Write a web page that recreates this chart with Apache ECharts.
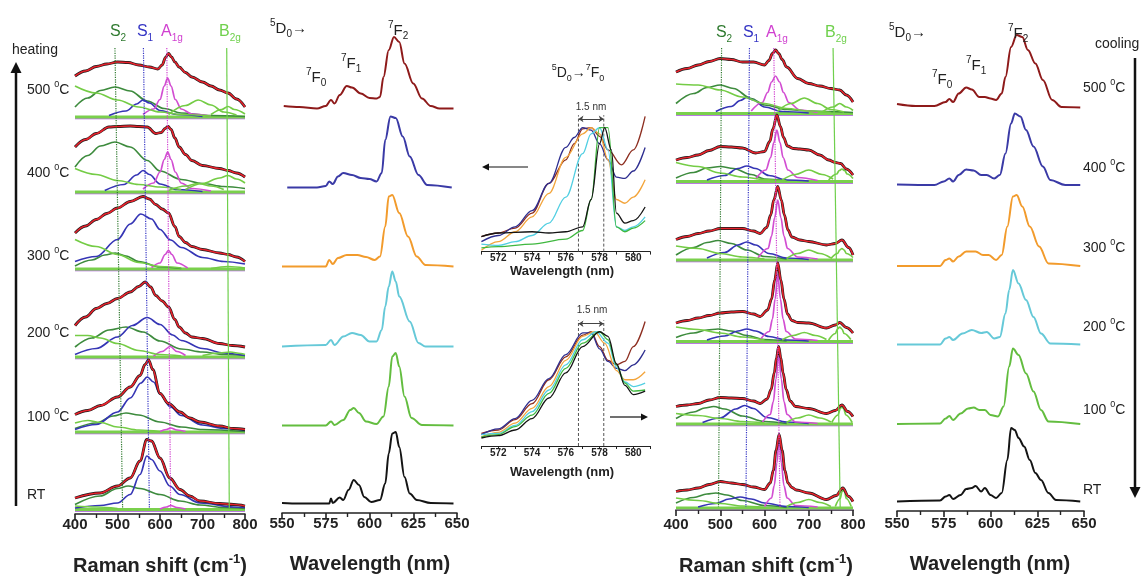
<!DOCTYPE html>
<html>
<head>
<meta charset="utf-8">
<script src="https://cdn.jsdelivr.net/npm/echarts@6/dist/echarts.min.js"></script>
<style>
html, body { margin: 0; padding: 0; background: #fff; }
#main { width: 1141px; height: 578px; }
</style>
</head>
<body>
<div id="main"></div>
<script>
// Raman spectra, heating (heights above each stack baseline)
var h500fit = [[400,8.2],[425,9.2],[450,10.1],[475,10.6],[500,11],[525,10.9],[550,10.4],[575,10],[595,9.6],[605,10.4],[613,11.9],[620,12.7],[627,12],[635,11],[645,10],[660,8.9],[675,8],[700,7],[720,6.2],[740,5.4],[760,4.8],[780,3.6],[800,2]];
var h500s2 = [[400,2],[430,3.8],[460,5.3],[494,6],[530,5.2],[570,3.2],[610,1.7],[650,0.8],[720,0.3],[800,0.1]];
var h500s1 = [[480,0.3],[520,1.2],[545,2.6],[560,3.4],[575,2.8],[600,1.3],[640,0.5],[700,0.1]];
var h500a = [[560,0.5],[585,1.6],[600,3.5],[610,6.2],[618,7.8],[626,6.2],[636,3.5],[650,1.6],[675,0.6],[720,0.2]];
var h500g1 = [[400,6.2],[450,4.8],[500,3.4],[550,2],[600,1],[650,0.5],[720,0.2]];
var h500g2 = [[620,0.5],[660,2.3],[690,3.4],[720,2.4],[750,1],[780,0.4]];
var h500b = [[720,0.5],[745,1.5],[760,2.1],[775,1.5],[800,0.6]];

var h400fit = [[400,9],[425,10.5],[450,11.7],[480,13],[500,13.1],[530,13.2],[550,13.1],[570,13],[590,11.7],[603,11.9],[612,12.7],[619,13.1],[626,12.5],[635,10.8],[645,9],[660,7.5],[675,6.3],[700,5.3],[740,4.7],[760,4.3],[780,3.8],[800,3]];
var h400s2 = [[400,5],[430,7.3],[460,9.2],[494,10],[530,9],[570,6.3],[600,4.2],[650,2.5],[700,1.7],[750,1.1],[800,0.7]];
var h400s1 = [[470,0.3],[515,1.5],[545,3.4],[560,4.3],[575,3.5],[600,1.6],[640,0.5],[700,0.1]];
var h400a = [[560,0.6],[585,1.8],[600,4],[610,6.5],[618,8],[626,6.5],[636,4],[650,1.8],[675,0.7],[720,0.2]];
var h400g1 = [[400,4.7],[450,3.5],[500,2.3],[550,1.5],[600,1],[650,0.5]];
var h400g2 = [[620,0.3],[660,1.2],[690,1.7],[720,1.2],[750,0.5]];
var h400b = [[660,0.5],[700,1.7],[740,2.8],[760,3.3],[780,2.6],[800,1.8]];

var h300fit = [[400,7.2],[425,8.6],[450,9.9],[475,11.1],[500,12.2],[530,13.5],[560,14.5],[575,14],[590,12.9],[605,12],[620,11.2],[635,8.5],[645,6.5],[660,5.3],[675,4.5],[700,3.9],[740,3.2],[760,2.9],[780,2.4],[800,1.5]];
var h300s2 = [[400,0.6],[440,1.8],[470,2.8],[495,3.2],[520,2.6],[550,1.5],[600,0.4],[650,0.1]];
var h300s1 = [[400,1.5],[450,2.5],[500,5.9],[530,9],[555,11],[580,10],[600,7.9],[625,5.8],[650,4.3],[700,2.3],[750,1.5],[800,1]];
var h300a = [[580,0.3],[600,1.2],[612,2.9],[620,3.7],[628,2.9],[640,1.2],[665,0.2]];
var h300g1 = [[400,5.9],[450,4.5],[500,2.9],[550,1.3],[600,0.5],[650,0.2]];
var h300g2 = [];
var h300b = [[720,0.1],[760,0.5],[800,0.2]];

var h200fit = [[400,6.3],[425,8],[450,9.7],[475,10.7],[500,11.7],[530,13],[550,14.1],[565,15],[578,14],[590,12.3],[605,11.2],[620,10],[635,7.5],[645,6],[660,4.8],[675,4],[700,3.7],[740,2.7],[770,2.3],[800,2]];
var h200s2 = [[400,2],[440,3.8],[480,5.4],[520,6],[560,5],[600,3.2],[650,1.6],[700,1],[750,0.5],[800,0.3]];
var h200s1 = [[400,0.5],[450,1.7],[500,4],[535,6.3],[570,7.9],[600,6.5],[630,4.4],[650,3.3],[700,1.7],[750,0.8],[800,0.3]];
var h200a = [[585,0.2],[605,1.1],[624,2.1],[640,1.1],[660,0.3]];
var h200g1 = [[400,4.3],[430,4.3],[460,3.8],[500,2.7],[550,1.3],[600,0.5],[650,0.2]];
var h200g2 = [];
var h200b = [[700,0.3],[740,0.8],[765,1],[790,0.7],[800,0.5]];

var h100fit = [[400,3.5],[430,4.3],[460,5.3],[500,7],[530,9],[553,11.3],[565,13.5],[573,14.4],[583,12.5],[600,7.7],[620,5.7],[647,4],[670,2.8],[694,2],[740,1.2],[773,0.7],[800,0.5]];
var h100s2 = [[400,0.7],[450,1.8],[490,3.2],[520,3.8],[550,3.4],[600,2],[650,1],[700,0.5],[800,0.1]];
var h100s1 = [[400,0.5],[450,1.5],[500,4],[530,6.8],[555,9.8],[570,11],[585,10],[600,7.6],[625,5],[650,3.3],[700,1.4],[750,0.7],[800,0.3]];
var h100a = [[600,0.1],[615,0.5],[625,0.8],[640,0.4],[660,0.1]];
var h100g1 = [[400,1.8],[430,2.3],[460,1.9],[500,1],[550,0.4],[600,0.1]];
var h100g2 = [];
var h100b = [];

var hRTfit = [[400,2.3],[459,3.3],[500,4.7],[530,6.3],[553,9.7],[569,14],[580,13.7],[600,10.3],[623,6.3],[647,4],[670,2.7],[694,1.7],[740,1.2],[773,1],[800,0.7]];
var hRTs2 = [[400,1],[459,2.7],[500,4.2],[525,4.7],[553,4.2],[600,3],[647,1.7],[694,0.9],[750,0.4],[800,0.2]];
var hRTs1 = [[400,0.3],[459,0.8],[500,1.3],[530,3],[553,7],[569,10.7],[580,10],[600,7.7],[623,4.7],[647,3],[694,1.3],[773,0.5],[800,0.4]];
var hRTa = [[600,0.1],[615,0.5],[625,0.8],[640,0.4],[660,0.1]];
var hRTg1 = [[400,0.7],[450,0.5],[500,0.2]];
var hRTg2 = [];
var hRTb = [];

// Raman spectra, cooling
var c500fit = [[400,8.3],[425,9],[450,9.7],[475,10.4],[500,11],[525,10.8],[550,10.3],[575,10.3],[600,9.7],[610,10.6],[618,12],[625,12.7],[632,12],[640,10.8],[650,9.3],[675,7],[700,6],[725,5.5],[750,5],[770,4.7],[785,3.7],[800,2.3]];
var c500s2 = [[400,2],[440,4],[470,5.2],[500,5.7],[530,5],[570,3],[600,1.7],[650,0.8],[700,0.5],[800,0.2]];
var c500s1 = [[490,0.4],[525,1.4],[545,2.6],[560,3.2],[575,2.7],[600,1.3],[640,0.4],[700,0.1]];
var c500a = [[570,0.5],[595,2.2],[607,4.2],[616,6.3],[625,7.5],[634,6.3],[643,4.2],[655,2.2],[680,0.7],[720,0.2]];
var c500g1 = [[400,5.9],[450,5.7],[500,4.7],[550,3.3],[600,2],[650,1],[700,0.5],[750,0.2]];
var c500g2 = [[630,0.5],[660,2],[690,3.1],[720,2],[750,0.8],[780,0.3]];
var c500b = [[730,0.3],[755,1.3],[770,2],[785,1.3],[800,0.6]];

var c400fit = [[400,4.3],[425,4.8],[450,5.3],[475,6.2],[500,7],[525,6.9],[550,6.7],[580,5.7],[600,6],[612,8],[619,10.5],[628,13.3],[636,11],[643,8.8],[652,7.1],[665,6.6],[680,6.5],[700,6.3],[725,5.3],[745,4.3],[760,3.8],[772,3.6],[785,2.5],[800,1.3]];
var c400s2 = [[400,0.7],[440,1.8],[470,2.7],[500,3],[530,2.6],[570,1.4],[600,0.5],[650,0.2]];
var c400s1 = [[470,0.3],[510,1.2],[540,2.6],[560,3.1],[580,2.6],[610,1.2],[650,0.3],[700,0.1]];
var c400a = [[580,0.5],[603,2.3],[614,4.8],[621,7.8],[628,10.3],[635,7.8],[642,4.8],[653,2.3],[675,0.8],[720,0.2]];
var c400g1 = [[400,3.8],[450,3],[500,1.7],[550,0.9],[600,0.4],[650,0.1]];
var c400g2 = [[640,0.3],[670,1.4],[700,2.3],[730,1.4],[755,0.5]];
var c400b = [[745,0.3],[763,1.5],[769,2.2],[775,2.5],[781,2.2],[787,1.5],[800,0.6]];

var c300fit = [[400,4.1],[425,4.7],[450,5.3],[475,5.8],[500,6.3],[525,6.3],[550,6.3],[575,5.8],[590,5.3],[605,6.5],[614,9],[621,12],[630,14.7],[638,12],[645,9],[653,6],[662,4.6],[680,4],[700,3.7],[740,3],[760,3.3],[775,4],[790,2.5],[800,1]];
var c300s2 = [[400,1],[440,2.5],[470,3.5],[495,3.9],[525,3.3],[560,2],[600,0.7],[650,0.2]];
var c300s1 = [[470,0.4],[510,1.5],[540,3],[560,3.6],[580,3],[610,1.3],[650,0.4],[700,0.1]];
var c300a = [[585,0.4],[608,2.3],[616,4.8],[623,8.5],[630,12],[637,8.5],[644,4.8],[652,2.3],[675,0.6],[720,0.2]];
var c300g1 = [[400,2.8],[450,2.3],[500,1.3],[550,0.6],[600,0.2]];
var c300g2 = [[650,0.3],[675,1.3],[700,2],[725,1.3],[750,0.4]];
var c300b = [[750,0.3],[765,1.3],[770,2],[775,2.3],[780,2],[785,1.3],[800,0.5]];

var c200fit = [[400,3.7],[425,4.2],[450,4.7],[475,5.2],[500,5.7],[525,5.9],[550,6],[575,5.5],[590,5],[607,6.3],[616,8.5],[623,12.3],[630,15.7],[637,12.3],[644,8.5],[652,5.5],[662,4.2],[675,3.8],[700,3.7],[740,2.7],[760,3.3],[770,3.8],[785,2.8],[800,1.7]];
var c200s2 = [[400,0.8],[440,1.7],[470,2.3],[495,2.5],[525,2.1],[560,1.2],[600,0.4],[650,0.1]];
var c200s1 = [[470,0.3],[510,1.1],[540,2.1],[560,2.5],[580,2.1],[610,1],[650,0.3],[700,0.1]];
var c200a = [[590,0.3],[611,2],[618,4.5],[624,8.5],[630,13.5],[636,8.5],[642,4.5],[649,2],[670,0.5],[720,0.2]];
var c200g1 = [[400,2.9],[450,2.4],[500,1.7],[550,0.9],[600,0.3]];
var c200g2 = [[640,0.3],[665,1.2],[690,1.8],[715,1.2],[740,0.4]];
var c200b = [[745,0.3],[760,1.6],[765,2.5],[770,2.9],[775,2.5],[780,1.6],[795,0.4]];

var c100fit = [[400,3.5],[425,3.8],[450,4.1],[475,4.8],[500,5.3],[525,5.2],[550,5.1],[575,4.6],[590,4.1],[606,5],[615,6.9],[622,10.2],[627,13.2],[632,15.5],[637,13.2],[642,10.2],[649,6.9],[658,4.6],[670,3.5],[700,3.1],[740,2.1],[760,2.7],[775,3.8],[788,2.5],[800,1.5]];
var c100s2 = [[400,1.1],[440,2.4],[465,3.2],[485,3.5],[510,3],[550,1.6],[600,0.5],[650,0.1]];
var c100s1 = [[460,0.3],[500,1.2],[535,3],[555,3.7],[575,3.1],[605,1.3],[650,0.4],[700,0.1]];
var c100a = [[595,0.3],[613,1.9],[620,4.5],[626,9],[632,14],[638,9],[644,4.5],[651,1.9],[670,0.4],[720,0.1]];
var c100g1 = [[400,2.1],[450,1.7],[500,1.1],[550,0.5],[600,0.2]];
var c100g2 = [[650,0.3],[675,1.2],[700,1.8],[725,1.2],[750,0.4]];
var c100b = [[752,0.3],[766,1.8],[771,3],[775,3.5],[779,3],[784,1.8],[798,0.3]];

var cRTfit = [[400,3.3],[425,3.6],[450,4],[475,4.7],[500,5.3],[525,5],[550,4.7],[575,4.2],[600,3.7],[613,5],[620,7.5],[626,11.5],[633,14.7],[640,11.5],[646,7.5],[653,5],[662,4.1],[672,3.6],[700,3],[740,1.7],[762,2.5],[777,4],[790,2.3],[800,1.3]];
var cRTs2 = [[400,1],[440,2.1],[470,2.8],[490,3],[515,2.6],[550,1.5],[600,0.5],[650,0.1]];
var cRTs1 = [[450,0.2],[490,0.9],[520,1.8],[545,2.2],[570,1.8],[600,1],[650,0.3],[700,0.1]];
var cRTa = [[600,0.3],[616,2],[622,4.5],[628,9],[633,14],[638,9],[644,4.5],[651,2],[670,0.5],[720,0.2]];
var cRTg1 = [[400,2],[450,1.5],[500,0.9],[550,0.4],[600,0.1]];
var cRTg2 = [[650,0.3],[675,1.1],[700,1.7],[725,1.1],[750,0.3]];
var cRTb = [[760,0.3],[771,1.9],[775,3.2],[778,3.8],[781,3.2],[785,1.9],[796,0.3]];

// stack baselines (panel units, 500 C at top down to RT)
var heatOffsets = [79.4, 64.4, 49, 31.4, 16.4, 0.9];
var coolOffsets = [79.3, 65.7, 50, 33.7, 17.2, 0.4];
var plHeatOffsets = [80.9, 65.1, 49.3, 33.3, 17.5, 1.9];
var plCoolOffsets = [80.7, 65.2, 49, 33.3, 17.4, 1.9];
var temps = ['500', '400', '300', '200', '100', 'RT'];

// dotted mode guides: x at top and at bottom of the panel
var modeNames = ['S2', 'S1', 'A1g', 'B2g'];
var heatGuideTop = [494, 561, 616, 757];
var heatGuideBottom = [512, 575, 625, 763];
var coolGuideTop = [503, 566, 621, 755];
var coolGuideBottom = [496, 558, 635, 771];

// photoluminescence, heating
var hp500 = [[551,0.5],[560,0.3],[570,0],[575,0.5],[578,1.7],[580,1],[583,2.7],[587,4.5],[590,4.2],[595,3],[600,2.1],[604,2],[606,2.3],[608,6.3],[611,11.7],[614,14.3],[617,13.3],[620,9],[625,5],[630,2],[635,0.5],[640,0],[648,0]];
var hp400 = [[553,0],[570,0],[575,0.3],[577,1.2],[579,0.7],[582,2.2],[585,2.9],[590,2.5],[595,1.9],[600,1.7],[604,1.2],[607,2.9],[609,9.5],[612,14.2],[615,13.9],[619,10.2],[623,6.2],[628,2.5],[633,0.5],[647,0]];
var hp300 = [[550,0],[575,0],[577,1.3],[579,0.5],[582,1.7],[587,2.3],[593,2.3],[598,1.9],[603,1.3],[606,2],[609,8],[611,14],[613,14.3],[617,10.7],[622,6],[627,2],[632,0.3],[648,0]];
var hp200 = [[550,0],[575,0.3],[578,1.3],[580,0.3],[585,2],[590,2.7],[595,2.3],[600,1],[604,1],[607,3.3],[609,8],[611,12],[613,15],[615,13],[617,10],[623,5],[628,0.7],[632,0],[648,0]];
var hp100 = [[550,0],[575,0],[578,0.8],[580,0.1],[585,1.1],[589,3.1],[591,3.5],[594,2.5],[598,0.8],[604,0.3],[608,1.8],[611,7.8],[613,13.8],[615,14.5],[617,11.8],[620,5.8],[624,1.5],[630,0.1],[648,0]];
var hpRT = [[550,0.1],[560,0],[577,0],[578,1],[579,0.1],[583,1.2],[585,0.7],[588,2.7],[591,4.7],[594,3.7],[597,1.3],[601,0.3],[606,0.7],[609,4],[611,10],[613,14],[615,14.3],[617,11.3],[620,5.3],[623,2],[627,0.7],[635,0.1],[648,0]];

// photoluminescence, cooling
var cp500 = [[550,0.7],[560,0.3],[570,0.3],[576,1.1],[578,1.7],[580,1.1],[583,2.8],[587,4],[590,3.6],[594,2.1],[597,2.1],[600,1.8],[603,1.5],[606,2.8],[608,6.1],[611,12.1],[614,14.5],[617,14.1],[620,11.5],[624,8.8],[628,5.5],[633,1.5],[638,0.1],[648,0]];
var cp400 = [[550,0.1],[570,0],[575,0.7],[578,1.3],[580,0.7],[583,2],[587,3.1],[591,2.9],[595,2],[598,2],[602,1.3],[605,2],[608,6.3],[611,12.3],[613,14.3],[616,13.7],[619,11],[623,7.7],[628,3.7],[632,1],[640,0],[648,0]];
var cp300 = [[550,0],[573,0],[576,1.2],[578,1.5],[580,0.9],[583,1.9],[587,2.9],[592,2.9],[596,2.2],[599,2.2],[603,1.2],[606,2.2],[609,7.9],[612,13.9],[614,14.2],[617,11.9],[621,7.9],[626,3.9],[631,0.5],[648,0]];
var cp200 = [[550,0],[573,0],[576,1.2],[578,1.5],[580,0.9],[585,2.2],[590,2.9],[595,2.3],[598,2.5],[602,1.2],[605,1.5],[608,6.2],[610,10.9],[612,14.9],[615,12.2],[619,8.9],[623,5.5],[627,2.2],[632,0.2],[648,0]];
var cp100 = [[550,0],[573,0.1],[576,1.1],[578,1.6],[580,0.8],[584,2.1],[588,3.1],[591,3.3],[594,2.8],[597,2.8],[600,1.8],[604,1.5],[607,3.5],[610,11.5],[612,15.1],[615,13.8],[619,10.1],[623,6.5],[627,2.8],[631,0.5],[648,0]];
var cpRT = [[550,0],[573,0.2],[576,1],[578,1.3],[580,0.5],[584,1.3],[587,2.5],[590,2.7],[592,3.1],[595,2],[597,2.7],[600,1.3],[603,0.7],[606,1.7],[609,8.3],[611,14.7],[613,14.3],[615,12.7],[618,11],[621,8.3],[624,5.7],[627,4.3],[631,1.7],[635,0.3],[648,0]];

// 5D0-7F0 insets (normalised)
var ih500 = [[571,0.12],[572,0.15],[573,0.19],[574,0.31],[575,0.55],[576,0.74],[576.5,0.87],[577,0.99],[577.5,1.0],[578,0.93],[578.5,0.82],[579.3,0.7],[580,0.82],[580.7,1.09]];
var ih400 = [[571,0.08],[572,0.13],[573,0.2],[574,0.33],[575,0.55],[576,0.84],[576.5,0.92],[577,1.0],[577.5,0.98],[578,0.87],[578.5,0.74],[579,0.6],[579.5,0.59],[580,0.65],[580.7,0.84]];
var ih300 = [[571,0.01],[572,0.08],[573,0.16],[574,0.28],[575,0.47],[576,0.76],[577,0.95],[577.5,1.0],[578,0.95],[578.5,0.74],[579,0.42],[579.5,0.39],[580,0.44],[580.7,0.58]];
var ih200 = [[571,0.06],[572,0.05],[573,0.08],[574,0.13],[575,0.23],[576,0.44],[577,0.79],[577.5,0.95],[578,1.0],[578.5,0.82],[579,0.2],[579.5,0.17],[580,0.2],[580.7,0.28]];
var ih100 = [[571,0.03],[572,0.04],[574,0.06],[576,0.1],[577,0.17],[577.5,0.42],[578,1.0],[578.5,1.0],[579,0.2],[579.5,0.16],[580,0.19],[580.7,0.25]];
var ihRT = [[571,0.12],[572,0.15],[574,0.16],[575,0.15],[576,0.16],[577,0.2],[577.5,0.42],[578,0.87],[578.3,1.0],[578.7,0.82],[579,0.31],[579.5,0.23],[580,0.25],[580.7,0.36]];

var ic500 = [[571,0.11],[572,0.14],[573,0.23],[574,0.37],[575,0.58],[576,0.78],[577,0.97],[577.5,1.0],[578,0.87],[578.5,0.75],[579,0.71],[579.5,0.74],[580,0.87],[580.7,1.09]];
var ic400 = [[571,0.1],[572,0.15],[573,0.24],[574,0.4],[575,0.59],[576,0.8],[577,0.99],[577.5,0.99],[578,0.85],[578.5,0.74],[579,0.68],[579.5,0.66],[580,0.71],[580.7,0.84]];
var ic300 = [[571,0.08],[572,0.12],[573,0.2],[574,0.33],[575,0.52],[576,0.75],[577,0.96],[577.7,1.0],[578.3,0.9],[579,0.66],[579.5,0.58],[580,0.58],[580.7,0.65]];
var ic200 = [[571,0.1],[572,0.11],[573,0.18],[574,0.3],[575,0.49],[576,0.71],[577,0.93],[577.8,1.0],[578.5,0.9],[579,0.69],[579.5,0.56],[580,0.52],[580.7,0.55]];
var ic100 = [[571,0.08],[572,0.1],[573,0.17],[574,0.27],[575,0.46],[576,0.68],[577,0.9],[578,1.0],[578.5,0.93],[579,0.71],[579.5,0.55],[580,0.48],[580.7,0.49]];
var icRT = [[571,0.07],[572,0.09],[573,0.14],[574,0.24],[575,0.42],[576,0.64],[577,0.87],[578,1.0],[578.5,0.96],[579,0.72],[579.5,0.53],[580,0.45],[580.7,0.48]];

var shiftMarks = [576.75, 578.25];   // the 1.5 nm shift

var heatStacks = [
    [h500fit, h500s2, h500s1, h500a, h500g1, h500g2, h500b],
    [h400fit, h400s2, h400s1, h400a, h400g1, h400g2, h400b],
    [h300fit, h300s2, h300s1, h300a, h300g1, h300g2, h300b],
    [h200fit, h200s2, h200s1, h200a, h200g1, h200g2, h200b],
    [h100fit, h100s2, h100s1, h100a, h100g1, h100g2, h100b],
    [hRTfit, hRTs2, hRTs1, hRTa, hRTg1, hRTg2, hRTb]
];
var coolStacks = [
    [c500fit, c500s2, c500s1, c500a, c500g1, c500g2, c500b],
    [c400fit, c400s2, c400s1, c400a, c400g1, c400g2, c400b],
    [c300fit, c300s2, c300s1, c300a, c300g1, c300g2, c300b],
    [c200fit, c200s2, c200s1, c200a, c200g1, c200g2, c200b],
    [c100fit, c100s2, c100s1, c100a, c100g1, c100g2, c100b],
    [cRTfit, cRTs2, cRTs1, cRTa, cRTg1, cRTg2, cRTb]
];
var plHeat = [hp500, hp400, hp300, hp200, hp100, hpRT];
var plCool = [cp500, cp400, cp300, cp200, cp100, cpRT];
var insetHeat = [ih500, ih400, ih300, ih200, ih100, ihRT];
var insetCool = [ic500, ic400, ic300, ic200, ic100, icRT];

//////////////////////////////////////////////////////////////

var FF = '"Liberation Sans", Arial, sans-serif';
var plColors = ['#8e1a1a', '#3a3aa6', '#f29b2c', '#66c9d8', '#63bd3f', '#141414'];
var insetColors = ['#8d2e20', '#2e2e90', '#f3a53c', '#52cfe2', '#3fb83f', '#141414'];
var compColors = ['#3d8b3d', '#3535b5', '#d24ed2', '#74cc45', '#74cc45', '#74cc45'];
var guideColors = ['#2f7a2f', '#3434c4', '#d040d0', '#6fd04c'];

var chart = echarts.init(document.getElementById('main'));

function shift(pts, off) {
    return pts.map(function (p) { return [p[0], p[1] + off]; });
}

function curve(grid, pts, off, color, width, type, smooth) {
    return {
        type: 'line', xAxisIndex: grid, yAxisIndex: grid,
        data: shift(pts, off), symbol: 'none', silent: true,
        smooth: smooth === undefined ? 0.35 : smooth, smoothMonotone: 'x',
        lineStyle: {color: color, width: width, type: type || 'solid'},
        animation: false
    };
}

var series = [];

function ramanPanel(grid, stacks, offsets, top, bottom, guideY) {
    stacks.forEach(function (st, i) {
        var off = offsets[i];
        series.push(curve(grid, [[400, 0], [800, 0]], off - 0.35, '#a24fd6', 1.2));
        series.push(curve(grid, [[400, 0], [800, 0]], off, '#7ad04c', 3));
        for (var k = 1; k < st.length; k++) {
            if (st[k].length) series.push(curve(grid, st[k], off, compColors[k - 1], 1.7));
        }
        series.push(curve(grid, st[0], off, '#1a1a1a', 2.8));
        series.push(curve(grid, st[0], off, '#e8222c', 1.7));
    });
    top.forEach(function (x, k) {
        series.push(curve(grid, [[x, guideY[0]], [bottom[k], guideY[1]]], 0, guideColors[k], 1.2,
            k === 3 ? 'solid' : 'dotted', false));
    });
}

ramanPanel(0, heatStacks, heatOffsets, heatGuideTop, heatGuideBottom, [93.2, 1.2]);
ramanPanel(4, coolStacks, coolOffsets, coolGuideTop, coolGuideBottom, [92.4, 0.6]);

plHeat.forEach(function (d, i) { series.push(curve(1, d, plHeatOffsets[i], plColors[i], 2)); });
plCool.forEach(function (d, i) { series.push(curve(5, d, plCoolOffsets[i], plColors[i], 2)); });

[2, 3].forEach(function (g) {
    shiftMarks.forEach(function (x) {
        series.push(curve(g, [[x, 0], [x, 1.1]], 0, '#555', 1, [3, 2], false));
    });
    series.push({
        type: 'lines', coordinateSystem: 'cartesian2d', xAxisIndex: g, yAxisIndex: g,
        symbol: ['arrow', 'arrow'], symbolSize: 5, silent: true, animation: false,
        lineStyle: {color: '#444', width: 1, opacity: 1},
        data: [{coords: [[shiftMarks[0], 1.07], [shiftMarks[1], 1.07]]}]
    });
});
insetHeat.forEach(function (d, i) { series.push(curve(2, d, 0, insetColors[i], 1.3)); });
insetCool.forEach(function (d, i) { series.push(curve(3, d, 0, insetColors[i], 1.3)); });

// axes
function xAx(grid, min, max, interval, minor, size, margin) {
    return {
        gridIndex: grid, type: 'value', min: min, max: max, interval: interval,
        axisLine: {lineStyle: {color: '#222', width: size > 12 ? 1.6 : 1}},
        axisTick: {length: size > 12 ? 6 : 3, lineStyle: {color: '#222', width: size > 12 ? 1.6 : 1}},
        minorTick: {show: minor > 0, splitNumber: minor || 2, length: 4, lineStyle: {color: '#222', width: 1.4}},
        splitLine: {show: false},
        axisLabel: {
            fontFamily: FF, fontWeight: 'bold', fontSize: size, color: '#222', margin: margin,
            formatter: function (v) { return (interval === 1 && v % 2) ? '' : String(v); }
        }
    };
}
function yAx(grid, max) {
    return {gridIndex: grid, type: 'value', min: 0, max: max, show: false};
}

var grids = [
    {left: 75, top: 34, width: 170, height: 480},
    {left: 282, top: 33, width: 175, height: 480},
    {left: 481.4, top: 109, width: 168.8, height: 142.6},
    {left: 481.4, top: 314.6, width: 168.8, height: 131.4},
    {left: 676, top: 30, width: 177, height: 480},
    {left: 897, top: 31, width: 187, height: 480}
];

// texts
function txt(x, y, text, size, color, bold, align) {
    var w = bold ? 'bold' : 'normal';
    var small = Math.round(size * 0.64);
    return {
        type: 'text', x: x, y: y, z: 100, silent: true,
        style: {
            text: text, align: align || 'left', verticalAlign: 'middle',
            fill: color, font: w + ' ' + size + 'px ' + FF,
            rich: {
                n: {fontSize: size, fontFamily: FF, fontWeight: w, fill: color, lineHeight: size + 6},
                sup: {fontSize: small, fontFamily: FF, fontWeight: w, fill: color, lineHeight: small, verticalAlign: 'top'},
                sub: {fontSize: small, fontFamily: FF, fontWeight: w, fill: color, lineHeight: small, verticalAlign: 'bottom'}
            }
        }
    };
}
function modeLabel(name) {
    return '{n|' + name.charAt(0) + '}{sub|' + name.slice(1) + '}';
}
function tempLabel(t) {
    return t === 'RT' ? '{n|RT}' : '{n|' + t + ' }{sup|0}{n|C}';
}

var graphic = [];
var heatLabelX = [118, 145, 172, 230];
var coolLabelX = [724, 751, 777, 836];
modeNames.forEach(function (m, k) {
    graphic.push(txt(heatLabelX[k], 32, modeLabel(m), 16, guideColors[k], false, 'center'));
    graphic.push(txt(coolLabelX[k], 33, modeLabel(m), 16, guideColors[k], false, 'center'));
});
var heatTempY = [90, 173, 256, 333, 417, 495];
var coolTempY = [88, 168, 248, 327, 410, 490];
temps.forEach(function (t, i) {
    graphic.push(txt(27, heatTempY[i], tempLabel(t), 14, '#222'));
    graphic.push(txt(1083, coolTempY[i], tempLabel(t), 14, '#222'));
});
graphic.push(txt(12, 50, '{n|heating}', 14, '#222'));
graphic.push(txt(1095, 44, '{n|cooling}', 14, '#222'));

// PL transition labels
graphic.push(txt(270, 29, '{sup|5}{n|D}{sub|0}{n|→}', 15, '#222'));
graphic.push(txt(306, 78, '{sup|7}{n|F}{sub|0}', 15, '#222'));
graphic.push(txt(341, 64, '{sup|7}{n|F}{sub|1}', 15, '#222'));
graphic.push(txt(388, 31, '{sup|7}{n|F}{sub|2}', 15, '#222'));
graphic.push(txt(889, 33, '{sup|5}{n|D}{sub|0}{n|→}', 15, '#222'));
graphic.push(txt(932, 80, '{sup|7}{n|F}{sub|0}', 15, '#222'));
graphic.push(txt(966, 66, '{sup|7}{n|F}{sub|1}', 15, '#222'));
graphic.push(txt(1008, 34, '{sup|7}{n|F}{sub|2}', 15, '#222'));

// inset texts
graphic.push(txt(578, 73, '{sup|5}{n|D}{sub|0}{n|→}{sup|7}{n|F}{sub|0}', 14, '#222', false, 'center'));
graphic.push(txt(591, 107, '{n|1.5 nm}', 10, '#333', false, 'center'));
graphic.push(txt(592, 310, '{n|1.5 nm}', 10, '#333', false, 'center'));
graphic.push(txt(562, 271, '{n|Wavelength (nm)}', 13, '#222', true, 'center'));
graphic.push(txt(562, 472, '{n|Wavelength (nm)}', 13, '#222', true, 'center'));

// axis titles
graphic.push(txt(160, 566, '{n|Raman shift (cm}{sup|-1}{n|)}', 20, '#222', true, 'center'));
graphic.push(txt(766, 566, '{n|Raman shift (cm}{sup|-1}{n|)}', 20, '#222', true, 'center'));
graphic.push(txt(370, 564, '{n|Wavelength (nm)}', 20, '#222', true, 'center'));
graphic.push(txt(990, 564, '{n|Wavelength (nm)}', 20, '#222', true, 'center'));

// arrows
function arrow(x1, y1, x2, y2, w, head) {
    var dx = x2 - x1, dy = y2 - y1, len = Math.sqrt(dx * dx + dy * dy);
    var ux = dx / len, uy = dy / len;
    var bx = x2 - ux * head * 2, by = y2 - uy * head * 2;
    graphic.push({type: 'line', silent: true, z: 90,
        shape: {x1: x1, y1: y1, x2: bx + ux, y2: by + uy},
        style: {stroke: '#111', lineWidth: w}});
    graphic.push({type: 'polygon', silent: true, z: 90,
        shape: {points: [[x2, y2], [bx - uy * head, by + ux * head], [bx + uy * head, by - ux * head]]},
        style: {fill: '#111'}});
}
arrow(16, 506, 16, 62, 2.5, 5.5);
arrow(1135, 58, 1135, 498, 2.5, 5.5);
arrow(528, 167, 482, 167, 1.2, 3.5);
arrow(610, 417, 648, 417, 1.2, 3.5);

chart.setOption({
    animation: false,
    grid: grids,
    xAxis: [
        xAx(0, 400, 800, 100, 2, 15, 3),
        xAx(1, 550, 650, 25, 2, 15, 3),
        xAx(2, 571, 581, 1, 0, 10, 2),
        xAx(3, 571, 581, 1, 0, 10, 2),
        xAx(4, 400, 800, 100, 2, 15, 7),
        xAx(5, 550, 650, 25, 2, 15, 5)
    ],
    yAxis: [yAx(0, 96), yAx(1, 96), yAx(2, 1.15), yAx(3, 1.15), yAx(4, 96), yAx(5, 96)],
    series: series,
    graphic: graphic
});
</script>
</body>
</html>
